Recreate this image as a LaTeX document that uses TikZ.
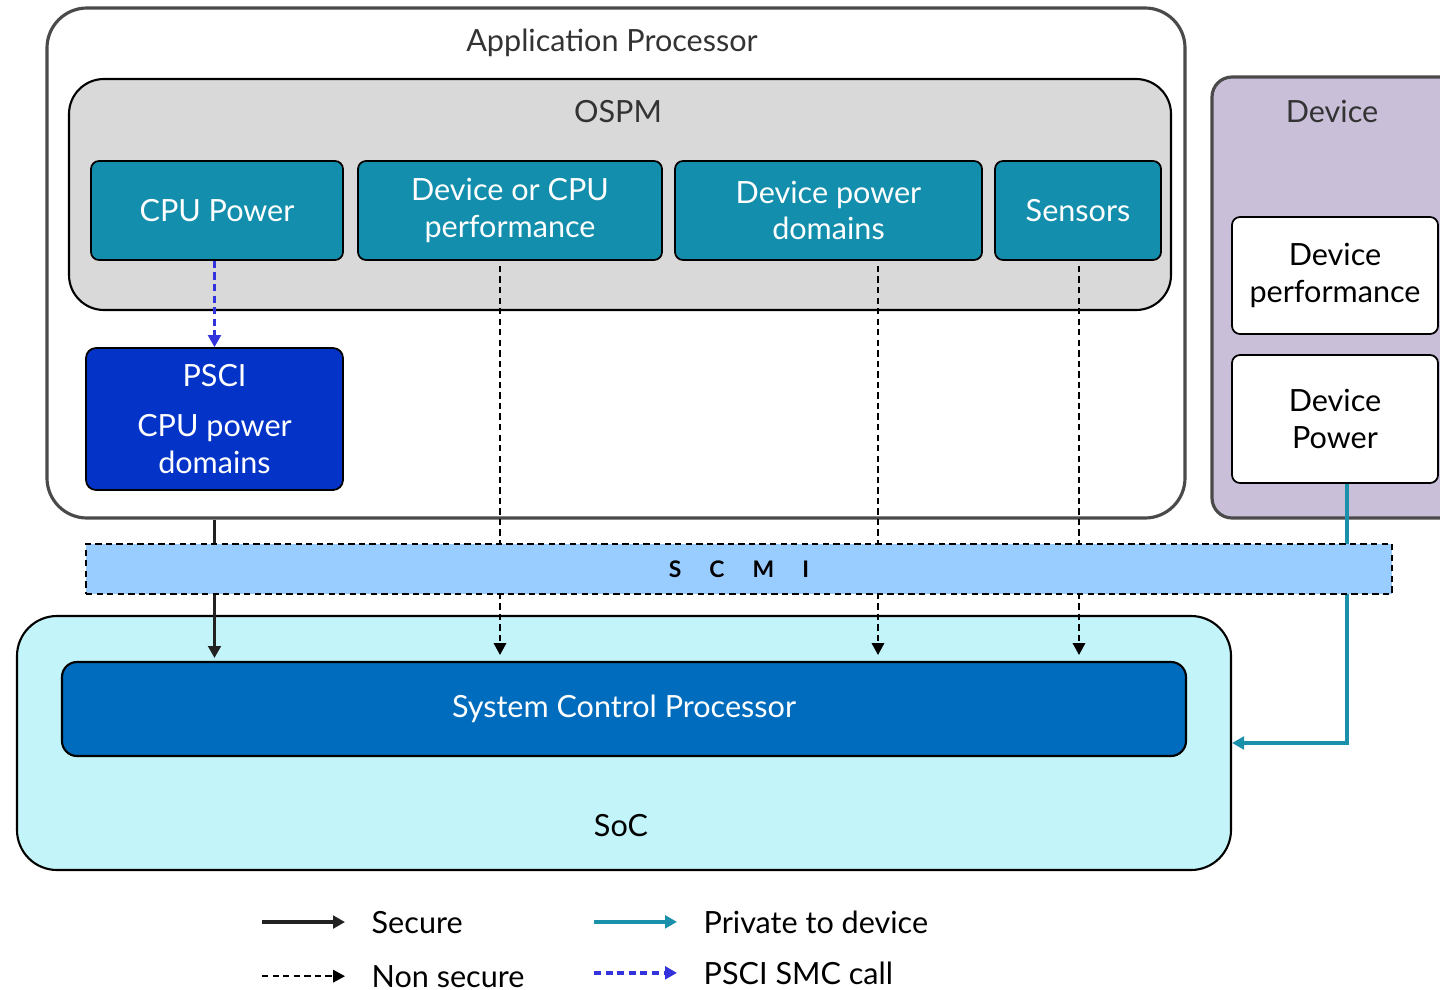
\documentclass[tikz,border=0pt]{standalone}
\usepackage{fontspec}
\setmainfont{Lato}
\usetikzlibrary{arrows.meta}
\definecolor{framegray}{HTML}{4A4A4A}
\definecolor{titlegray}{HTML}{333333}
\definecolor{ospmgray}{HTML}{D9D9D9}
\definecolor{fnteal}{HTML}{138EAC}
\definecolor{psciblue}{HTML}{0433C8}
\definecolor{devlilac}{HTML}{C9BFD9}
\definecolor{soccyan}{HTML}{C2F4FA}
\definecolor{scpblue}{HTML}{006CBE}
\definecolor{scmiblue}{HTML}{99CCFF}
\definecolor{privteal}{HTML}{1A90AA}
\definecolor{smcblue}{HTML}{3333DD}
\definecolor{securegray}{HTML}{222222}
\begin{document}
\begin{tikzpicture}[
    font=\fontsize{8.7}{10.5}\selectfont,
    every node/.style={inner sep=0pt},
    frame/.style={draw=framegray, line width=0.9pt, rounded corners=0.4cm},
    func/.style={draw=black, line width=0.5pt, fill=fnteal, text=white, align=center, rounded corners=0.08cm, minimum height=0.99cm},
    devbox/.style={draw=black, line width=0.5pt, fill=white, align=center, rounded corners=0.08cm, minimum width=2.06cm},
    title/.style={text=titlegray, anchor=base},
    tip/.style={-{Triangle[length=3.4pt,width=3.6pt]}},
    secure/.style={tip, draw=securegray, line width=0.8pt},
    nonsec/.style={tip, draw=black, line width=0.4pt, dash pattern=on 1.8pt off 1.2pt},
    private/.style={tip, draw=privteal, line width=0.9pt},
    smc/.style={tip, draw=smcblue, line width=0.8pt, dash pattern=on 2pt off 1.3pt}
  ]
    \useasboundingbox (0,0) rectangle (14.4,-9.9);

    \node[frame, minimum width=11.38cm, minimum height=5.10cm] (ap) at (6.16,-2.63) {};
    \node[title] (aptitle) at (6.12,-0.52) {Application Processor};
    \node[draw=black, line width=0.6pt, fill=ospmgray, rounded corners=0.35cm, minimum width=11.02cm, minimum height=2.31cm] (ospm) at (6.20,-1.945) {};
    \node[title] (ospmtitle) at (6.18,-1.23) {OSPM};
    \node[func, minimum width=2.52cm] (cpupower) at (2.17,-2.105) {CPU Power};
    \node[func, minimum width=3.04cm] (devcpuperf) at (5.10,-2.105) {Device or CPU\\performance};
    \node[func, minimum width=3.07cm] (devpowerdom) at (8.285,-2.105) {Device power\\domains};
    \node[func, minimum width=1.66cm] (sensors) at (10.78,-2.105) {Sensors};
    \node[draw=black, line width=0.5pt, fill=psciblue, text=white, align=center, rounded corners=0.1cm, minimum width=2.57cm, minimum height=1.42cm] (psci) at (2.145,-4.19) {PSCI\\[4pt]CPU power\\domains};

    \node[frame, fill=devlilac, rounded corners=0.2cm, minimum width=2.6cm, minimum height=4.41cm] (device) at (13.42,-2.975) {};
    \node[title] (devtitle) at (13.32,-1.23) {Device};
    \node[devbox, minimum height=1.17cm] (devperf) at (13.35,-2.755) {Device\\performance};
    \node[devbox, minimum height=1.28cm] (devpower) at (13.35,-4.19) {Device\\Power};

    \node[draw=black, line width=0.6pt, fill=soccyan, rounded corners=0.4cm, minimum width=12.14cm, minimum height=2.54cm] (soc) at (6.24,-7.43) {};
    \node[anchor=base] (soctitle) at (6.21,-8.36) {SoC};
    \node[draw=black, line width=0.6pt, fill=scpblue, text=white, rounded corners=0.15cm, minimum width=11.24cm, minimum height=0.94cm] (scp) at (6.24,-7.09) {System Control Processor};

    \coordinate (ns1) at ([xshift=-0.1cm]devcpuperf.south);
    \coordinate (ns2) at ([xshift=0.495cm]devpowerdom.south);
    \coordinate (ns3) at ([xshift=0.01cm]sensors.south);
    \draw[smc] (psci.north |- cpupower.south) -- (psci.north);
    \draw[secure] (psci.south |- ap.south) -- ([yshift=0.03cm]psci.south |- scp.north);
    \foreach \c in {ns1,ns2,ns3}
      \draw[nonsec, shorten >=0.06cm] ([yshift=-0.05cm]\c) -- (\c |- scp.north);
    \draw[private] ([xshift=0.12cm]devpower.south) |- (soc.east);

    \node[draw=black, line width=0.5pt, dash pattern=on 1.8pt off 1.2pt, fill=scmiblue, minimum width=13.06cm, minimum height=0.50cm, font=\fontsize{6.5}{8}\selectfont\bfseries] (scmi) at (7.39,-5.69) {S\hspace{8pt}C\hspace{8pt}M\hspace{8pt}I};

    \node[anchor=base west] (lsecure) at (3.71,-9.33) {Secure};
    \node[anchor=base west] (lnonsec) at (3.71,-9.87) {Non secure};
    \node[anchor=base west] (lprivate) at (7.03,-9.33) {Private to device};
    \node[anchor=base west] (lsmc) at (7.03,-9.84) {PSCI SMC call};
    \draw[secure, line width=1.1pt] ([xshift=-1.09cm]lsecure.west) -- ([xshift=-0.26cm]lsecure.west);
    \draw[nonsec] ([xshift=-1.09cm]lnonsec.west) -- ([xshift=-0.26cm]lnonsec.west);
    \draw[private, line width=1.1pt] ([xshift=-1.09cm]lprivate.west) -- ([xshift=-0.26cm]lprivate.west);
    \draw[smc, line width=1.1pt] ([xshift=-1.09cm]lsmc.west) -- ([xshift=-0.26cm]lsmc.west);
\end{tikzpicture}
\end{document}
